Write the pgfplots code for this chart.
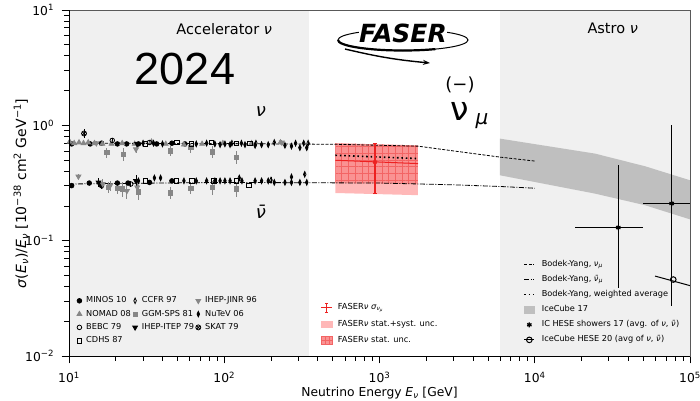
\documentclass[border=0pt]{standalone}
\usepackage{fontspec}
\setmainfont{DejaVu Sans}
\newfontfamily\arialf{Liberation Sans}
\usepackage{pgfplots}
\pgfplotsset{compat=1.18}
\usetikzlibrary{patterns.meta,arrows.meta}

\definecolor{accgray}{gray}{0.94}
\definecolor{bandgray}{gray}{0.75}
\definecolor{mkgray}{gray}{0.53}
\definecolor{fred}{rgb}{0.93,0.13,0.13}
\definecolor{pinkA}{rgb}{1,0.72,0.72}

\pgfplotsset{
  myexpstyle/.style={only marks, mark size=2.3bp, line width=0.8bp,
    error bars/y dir=both, error bars/y explicit, error bars/error mark=none,
    error bars/error bar style={line width=0.9bp}},
}

\begin{document}
\begin{tikzpicture}
\begin{axis}[xmode=log, ymode=log, xmin=10, xmax=100000, ymin=0.01, ymax=10,
  width=621bp, height=346bp, scale only axis, name=main, axis on top,
  axis line style={draw=gray!70!black, line width=0.8bp},
  tick align=outside, xtick pos=left, ytick pos=left,
  major tick length=7.5bp, minor tick length=5bp,
  every tick/.style={black, line width=0.8bp},
  xtick={10,100,1000,10000,100000},
  xticklabels={10\textsuperscript{1},10\textsuperscript{2},10\textsuperscript{3},10\textsuperscript{4},10\textsuperscript{5}},
  ytick={0.01,0.1,1,10},
  yticklabels={10\textsuperscript{−2},10\textsuperscript{−1},10\textsuperscript{0},10\textsuperscript{1}},
  minor xtick={20,30,40,50,60,70,80,90,200,300,400,500,600,700,800,900,2000,3000,4000,5000,6000,7000,8000,9000,20000,30000,40000,50000,60000,70000,80000,90000},
  minor ytick={0.02,0.03,0.04,0.05,0.06,0.07,0.08,0.09,0.2,0.3,0.4,0.5,0.6,0.7,0.8,0.9,2,3,4,5,6,7,8,9},
  ticklabel style={font=\fontsize{12.3bp}{14bp}\selectfont},
  xticklabel style={yshift=-5bp},
  yticklabel style={xshift=-4bp},
  xlabel style={font=\fontsize{12.3bp}{14bp}\selectfont, at={(rel axis cs:0.5,0)}, anchor=center, yshift=-37bp},
  ylabel style={font=\fontsize{14bp}{16bp}\selectfont, at={(rel axis cs:0,0.4697)}, anchor=center, yshift=48bp},
  xlabel={Neutrino Energy \textit{E}\textsubscript{\textit{ν}} [GeV]},
  ylabel={\textit{σ}(\textit{E}\textsubscript{\textit{ν}})/\textit{E}\textsubscript{\textit{ν}} [10\textsuperscript{−38} cm\textsuperscript{2} GeV\textsuperscript{−1}]},
  legend image code/.code={\draw[mark repeat=2,mark phase=2,#1] plot coordinates {(0bp,0bp)(2.5bp,0bp)(5bp,0bp)};},
  legend columns=3, legend cell align=left,
  legend style={at={(rel axis cs:0.01256,0.1737)}, anchor=north west, draw=none, fill=none, inner sep=0bp,
    font=\fontsize{8.2bp}{9bp}\selectfont, row sep=3.9bp,
    nodes={inner sep=0.8bp, text height=6bp, text depth=1.8bp},
    /tikz/every odd column/.append style={column sep=3.6bp},
    /tikz/every even column/.append style={column sep=1bp}},
]
% shaded regions
\addplot[fill=accgray, draw=none, forget plot] coordinates {(10,0.01)(350,0.01)(350,10)(10,10)};
\addplot[fill=accgray, draw=none, forget plot] coordinates {(6000,0.01)(100000,0.01)(100000,10)(6000,10)};
% IceCube 17 band
\addplot[fill=bandgray, draw=none, forget plot] coordinates {(5970,0.767)(24400,0.569)(51300,0.442)(100000,0.334)(100000,0.153)(51300,0.203)(24400,0.256)(5970,0.369)};
% FASER boxes
\addplot[fill=pinkA, draw=none, forget plot] coordinates {(520,0.70)(1770,0.67)(1770,0.248)(520,0.259)};
\addplot[fill=fred, fill opacity=0.25, draw=none, forget plot] coordinates {(520,0.70)(1770,0.67)(1770,0.31)(520,0.316)};
\addplot[pattern={Hatch[angle=0,distance=6.7bp,line width=0.5bp]}, pattern color=fred!70, draw=none, forget plot] coordinates {(520,0.70)(1770,0.67)(1770,0.31)(520,0.316)};
% Bodek-Yang
\addplot[black, line width=0.8bp, dash pattern=on 3bp off 1.5bp, forget plot] coordinates {(10,0.70)(100,0.695)(520,0.685)(1770,0.66)(3000,0.60)(6000,0.53)(10000,0.49)};
\addplot[black, line width=0.8bp, dash pattern=on 5bp off 1.5bp on 1bp off 1.5bp, forget plot] coordinates {(10,0.31)(30,0.315)(100,0.32)(1000,0.316)(3000,0.305)(6000,0.295)(10000,0.285)};
\addplot[black, line width=1.6bp, dash pattern=on 1.6bp off 2.8bp, forget plot] coordinates {(520,0.55)(1770,0.515)};
% FASER result
\addplot[fred, line width=1bp, forget plot] coordinates {(520,0.498)(1770,0.466)};
\addplot[fred, only marks, mark=none, forget plot, error bars/y dir=both, error bars/y explicit,
  error bars/error bar style={line width=1.1bp, fred}, error bars/error mark options={fred, mark size=2bp, line width=1bp, rotate=90}]
  coordinates {(935,0.48) += (0,0.22) -= (0,0.224)};
% astro points
\addplot[black, line width=1bp, forget plot] coordinates {(59600,0.0493)(130000,0.037)};
\addplot[black, only marks, mark=asterisk, mark size=2.5bp, line width=1.3bp, forget plot,
  error bars/x dir=both, error bars/y dir=both, error bars/x explicit, error bars/y explicit,
  error bars/error mark=none, error bars/error bar style={line width=1bp, black}]
  coordinates {(34500,0.13) += (15500,0.32) -= (16300,0.0914) (76200,0.21) += (40000,0.79) -= (26200,0.183)};
\addplot[black, only marks, mark=o, mark size=2.8bp, line width=1bp, mark options={fill=white}, forget plot] coordinates {(78000,0.046)};

% accelerator experiments (row-major legend order)
\addplot[myexpstyle, black, mark=*] coordinates {
 (10.4,0.69) +- (0,0.02) (13.7,0.69) +- (0,0.02) (16.2,0.70) +- (0,0.02) (20.5,0.69) +- (0,0.02) (23.5,0.69) +- (0,0.02) (28,0.69) +- (0,0.02) (36.7,0.69) +- (0,0.02) (46,0.70) +- (0,0.02) (55.8,0.69) +- (0,0.02)
 (10.4,0.30) +- (0,0.01) (13.5,0.316) +- (0,0.01) (16.2,0.30) +- (0,0.02) (20.5,0.316) +- (0,0.01) (24,0.316) +- (0,0.01) (33,0.32) +- (0,0.01) (46,0.33) +- (0,0.01)};
\addlegendentry{MINOS 10}
\addplot[myexpstyle, black, mark=diamond, mark size=2.8bp, mark options={xscale=0.6, fill=white}] coordinates {
 (112,0.70) +- (0,0.02) (129,0.70) +- (0,0.02) (160,0.70) +- (0,0.02) (210,0.71) +- (0,0.02) (288,0.70) +- (0,0.02) (325,0.70) +- (0,0.02) (347,0.70) +- (0,0.02)
 (125,0.35) +- (0,0.02) (200,0.335) +- (0,0.02) (271,0.357) +- (0,0.02) (330,0.376) +- (0,0.02)};
\addlegendentry{CCFR 97}
\addplot[myexpstyle, mkgray, mark=triangle*, mark size=2.8bp, mark options={rotate=180}] coordinates {
 (15,0.70) +- (0,0.03) (27,0.62) +- (0,0.05) (235,0.71) +- (0,0.03)
 (11.5,0.36) +- (0,0.02) (16.5,0.31) +- (0,0.03) (18.4,0.30) +- (0,0.03) (23.6,0.27) +- (0,0.04) (27.5,0.29) +- (0,0.04)};
\addlegendentry{IHEP-JINR 96}
\addplot[myexpstyle, mkgray, mark=triangle*, mark size=2.8bp] coordinates {
 (10.1,0.72) (10.8,0.70) (11.6,0.71) (12.4,0.70) (13.3,0.71) (14.6,0.70) (16.4,0.69) (18.8,0.69) (22,0.70) (26.5,0.69) (34,0.72) (42,0.69) (55,0.68) (72,0.69) (98,0.70) (150,0.70) (230,0.71)};
\addlegendentry{NOMAD 08}
\addplot[myexpstyle, mkgray, mark=square*, mark size=2.2bp] coordinates {
 (17.5,0.58) +- (0,0.06) (22.4,0.56) +- (0,0.07) (44.8,0.60) +- (0,0.06) (61,0.64) +- (0,0.06) (84,0.59) +- (0,0.07) (120,0.53) +- (0,0.07)
 (18,0.29) +- (0,0.03) (20.5,0.285) +- (0,0.03) (22,0.28) +- (0,0.04) (28,0.265) +- (0,0.04) (45,0.26) +- (0,0.03) (61,0.284) +- (0,0.03) (84,0.29) +- (0,0.04) (120,0.28) +- (0,0.04)};
\addlegendentry{GGM-SPS 81}
\addplot[myexpstyle, black, mark=diamond*, mark size=2.8bp, mark options={xscale=0.6}] coordinates {
 (30,0.70) +- (0,0.02) (35,0.70) +- (0,0.02) (40,0.69) +- (0,0.02) (66,0.69) +- (0,0.02) (77,0.70) +- (0,0.02) (87,0.69) +- (0,0.02) (94,0.68) +- (0,0.02) (101,0.69) +- (0,0.02) (109,0.68) +- (0,0.02) (136,0.68) +- (0,0.02) (158,0.67) +- (0,0.02) (174,0.68) +- (0,0.02) (192,0.68) +- (0,0.02) (246,0.67) +- (0,0.02) (271,0.66) +- (0,0.02) (307,0.64) +- (0,0.02) (340,0.64) +- (0,0.02)
 (28,0.33) +- (0,0.02) (35.5,0.35) +- (0,0.02) (38.9,0.35) +- (0,0.02) (55,0.33) +- (0,0.01) (66,0.33) +- (0,0.01) (77,0.33) +- (0,0.01) (87,0.33) +- (0,0.01) (94,0.33) +- (0,0.01) (101,0.33) +- (0,0.01) (109,0.33) +- (0,0.01) (130,0.33) +- (0,0.01) (158,0.33) +- (0,0.01) (174,0.33) +- (0,0.01) (192,0.33) +- (0,0.01) (210,0.32) +- (0,0.01) (246,0.32) +- (0,0.01) (271,0.32) +- (0,0.01) (307,0.32) +- (0,0.01) (340,0.32) +- (0,0.01)};
\addlegendentry{NuTeV 06}
\addplot[myexpstyle, black, mark=o, mark options={fill=white}] coordinates {
 (19,0.74) +- (0,0.04) (33,0.71) +- (0,0.04) (25,0.31) +- (0,0.02)};
\addlegendentry{BEBC 79}
\addplot[myexpstyle, black, mark=triangle*, mark size=2.8bp, mark options={rotate=180}] coordinates {
 (27.5,0.69) +- (0,0.03) (15.5,0.32) +- (0,0.03) (27,0.33) +- (0,0.04)};
\addlegendentry{IHEP-ITEP 79}
\addplot[myexpstyle, black, mark=otimes, mark size=2.5bp] coordinates {(12.5,0.85) +- (0,0.08)};
\addlegendentry{SKAT 79}
\addplot[myexpstyle, black, mark=square, mark size=2.2bp, mark options={fill=white}] coordinates {
 (31,0.69) (49.4,0.71) (61.6,0.69) (83,0.71) (120,0.70) (146,0.70)
 (31,0.33) (49,0.33) (62,0.33) (86,0.33) (120,0.33) (144,0.30)};
\addlegendentry{CDHS 87}

% texts
\node[font=\fontsize{14.5bp}{17bp}\selectfont] at (rel axis cs:0.25,0.9436) {Accelerator \textit{ν}};
\node[font=\fontsize{14.5bp}{17bp}\selectfont] at (rel axis cs:0.8755,0.948) {Astro \textit{ν}};
\node[font=\arialf\fontsize{45bp}{50bp}\selectfont] at (rel axis cs:0.1868,0.8303) {2024};
\node[font=\fontsize{18bp}{20bp}\selectfont\itshape] at (rel axis cs:0.3092,0.7052) {ν};
\node[font=\fontsize{18bp}{20bp}\selectfont\itshape] at (rel axis cs:0.3092,0.4162) {ν̄};
% FASER logo
\draw[line width=1bp] (rel axis cs:0.5378,0.9133) ellipse [x radius=65bp, y radius=10.5bp];
\draw[line width=2.2bp] (rel axis cs:0.5378,0.9133) ++(-65bp,0bp) arc[start angle=180, end angle=300, x radius=65bp, y radius=10.5bp];
\node[font=\fontsize{25bp}{27bp}\selectfont\bfseries\itshape, fill=white, inner sep=0bp] at (rel axis cs:0.5378,0.9324) {FASER};
\draw[line width=1.4bp, -{Stealth[length=7bp,width=5bp]}] (rel axis cs:0.4444,0.8873) to[bend right=4] (rel axis cs:0.5813,0.8468);
\node[font=\fontsize{18bp}{20bp}\selectfont] at (rel axis cs:0.6296,0.7832) {(−)};
\node[font=\fontsize{33bp}{36bp}\selectfont] at (rel axis cs:0.6296,0.708) {ν};
\node[font=\fontsize{20bp}{22bp}\selectfont\itshape] at (rel axis cs:0.665,0.679) {μ};
\end{axis}

% right legend
\begin{axis}[xmode=log, ymode=log, xmin=10, xmax=100000, ymin=0.01, ymax=10,
  width=621bp, height=346bp, scale only axis, hide axis, legend cell align=left,
  legend image code/.code={\draw[mark repeat=2,mark phase=2,#1] plot coordinates {(0bp,0bp)(5bp,0bp)(10bp,0bp)};},
  legend style={at={(rel axis cs:0.7316,0.2801)}, anchor=north west, draw=none, fill=none, inner sep=0bp,
    font=\fontsize{8.2bp}{9bp}\selectfont, row sep=4.9bp,
    nodes={inner sep=1bp, text height=6.2bp, text depth=2bp},
    /tikz/every odd column/.append style={column sep=5.7bp}}]
\addlegendimage{black, line width=0.8bp, dash pattern=on 3bp off 1.5bp}
\addlegendentry{Bodek-Yang, \textit{ν}\textsubscript{\textit{μ}}}
\addlegendimage{black, line width=0.8bp, dash pattern=on 5bp off 1.5bp on 1bp off 1.5bp}
\addlegendentry{Bodek-Yang, \textit{ν̄}\textsubscript{\textit{μ}}}
\addlegendimage{black, line width=1.6bp, dash pattern=on 1.6bp off 2.8bp}
\addlegendentry{Bodek-Yang, weighted average}
\addlegendimage{legend image code/.code={\fill[bandgray] (0bp,-3.4bp) rectangle (10bp,3.4bp);}}
\addlegendentry{IceCube 17}
\addlegendimage{black, only marks, mark=asterisk, mark size=2.5bp, line width=1.3bp}
\addlegendentry{IC HESE showers 17 (avg. of \textit{ν}, \textit{ν̄})}
\addlegendimage{black, line width=1bp, mark=o, mark size=2.8bp, mark options={fill=white}}
\addlegendentry{IceCube HESE 20 (avg of \textit{ν}, \textit{ν̄})}
\end{axis}

% FASER legend
\begin{axis}[xmode=log, ymode=log, xmin=10, xmax=100000, ymin=0.01, ymax=10,
  width=621bp, height=346bp, scale only axis, hide axis, legend cell align=left,
  legend style={at={(rel axis cs:0.4054,0.1546)}, anchor=north west, draw=none, fill=none, inner sep=0bp,
    font=\fontsize{8.3bp}{9bp}\selectfont, row sep=6.1bp,
    nodes={inner sep=1bp, text height=6.2bp, text depth=2bp},
    /tikz/every odd column/.append style={column sep=4bp}}]
\addlegendimage{legend image code/.code={\draw[fred, line width=1bp] (0bp,0bp) -- (11bp,0bp); \draw[fred, line width=1bp] (5.5bp,-4.5bp) -- (5.5bp,4.5bp); \draw[fred, line width=0.9bp] (4bp,-4.5bp) -- (7bp,-4.5bp) (4bp,4.5bp) -- (7bp,4.5bp);}}
\addlegendentry{FASER\textit{ν} \textit{σ}\textsubscript{\textit{ν}\textsubscript{\textit{μ}}}}
\addlegendimage{legend image code/.code={\fill[pinkA] (0bp,-3bp) rectangle (11bp,3bp);}}
\addlegendentry{FASER\textit{ν} stat.+syst. unc.}
\addlegendimage{legend image code/.code={\fill[pinkA] (0bp,-4bp) rectangle (11bp,4bp); \fill[fred, opacity=0.25] (0bp,-4bp) rectangle (11bp,4bp); \draw[fred!70, line width=0.5bp] (0bp,-4bp) rectangle (11bp,4bp) (3.7bp,-4bp) -- (3.7bp,4bp) (7.3bp,-4bp) -- (7.3bp,4bp) (0bp,0bp) -- (11bp,0bp);}}
\addlegendentry{FASER\textit{ν} stat. unc.}
\end{axis}

\draw[black, line width=1bp] (main.south west) -- (main.south east);
\draw[black, line width=1bp] (main.south west) -- (main.north west);
\pgfresetboundingbox
\path[use as bounding box] ([shift={(-69bp,-45bp)}]main.south west) rectangle ([shift={(10bp,10bp)}]main.north east);
\end{tikzpicture}
\end{document}
